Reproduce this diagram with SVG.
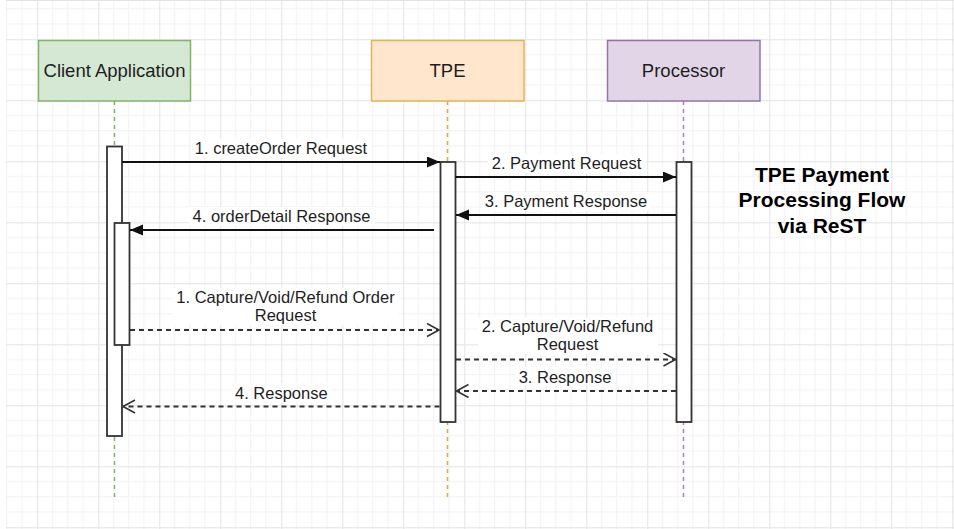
<svg xmlns="http://www.w3.org/2000/svg" width="954" height="529" viewBox="0 0 954 529">
<defs>
<pattern id="grid" patternUnits="userSpaceOnUse" x="37.3" y="39.3" width="61" height="61">
<path d="M15.25 0V61M30.5 0V61M45.75 0V61M0 15.25H61M0 30.5H61M0 45.75H61" stroke="#f1f1f1" stroke-width="1" fill="none"/>
<path d="M0.5 0V61M0 0.5H61" stroke="#e3e3e3" stroke-width="1" fill="none"/>
</pattern>
<marker id="block" markerUnits="userSpaceOnUse" markerWidth="14" markerHeight="12" refX="13" refY="5.5" orient="auto">
<path d="M0,0 L13,5.5 L0,11 Z" fill="#111"/>
</marker>
<marker id="open" markerUnits="userSpaceOnUse" markerWidth="16" markerHeight="16" refX="13" refY="7" orient="auto">
<path d="M1,0.5 L13,7 L1,13.5" fill="none" stroke="#333" stroke-width="1.6"/>
</marker>
</defs>
<style>
.box{stroke-width:1.5}
.lbl{font-family:"Liberation Sans",Arial,sans-serif;font-size:16.5px;fill:#1e1e1e;text-anchor:middle}
.name{font-family:"Liberation Sans",Arial,sans-serif;font-size:18.5px;fill:#1e1e1e;text-anchor:middle}
.title{font-family:"Liberation Sans",Arial,sans-serif;font-size:21px;font-weight:bold;fill:#000;text-anchor:middle}
.life{stroke-width:1.5;stroke-dasharray:4 4;fill:none}
.bar{fill:#fff;stroke:#333;stroke-width:1.8}
.solid{stroke:#111;stroke-width:2;fill:none;marker-end:url(#block)}
.dash{stroke:#333;stroke-width:1.8;stroke-dasharray:5 4;fill:none;marker-end:url(#open)}
.bg{fill:#fff}
</style>
<rect width="954" height="529" fill="#fff"/>
<rect x="6" y="0" width="948" height="529" fill="url(#grid)"/>
<path d="M6 0.5H954" stroke="#e3e3e3" stroke-width="1"/>

<g id="lifelines">
<path class="life" stroke="#82b366" d="M114.5 101V498"/>
<path class="life" stroke="#e0a93a" d="M447.5 101V498"/>
<path class="life" stroke="#a680b8" d="M683.5 101V498"/>
</g>

<g id="client">
<rect class="box" x="38.5" y="40.5" width="152" height="60.5" fill="#d5e8d4" stroke="#82b366"/>
<text class="name" x="114.5" y="77">Client Application</text>
</g>
<g id="tpe">
<rect class="box" x="371.5" y="40.5" width="152.5" height="60.5" fill="#ffe6cc" stroke="#e0b552"/>
<text class="name" x="447.5" y="77">TPE</text>
</g>
<g id="processor">
<rect class="box" x="607.5" y="40.5" width="152.5" height="60.5" fill="#e1d5e7" stroke="#9673a6"/>
<text class="name" x="683.5" y="77">Processor</text>
</g>

<g id="activations">
<rect class="bar" x="107" y="146.5" width="15" height="289.5"/>
<rect class="bar" x="114.5" y="223" width="15" height="122"/>
<rect class="bar" x="440.5" y="162" width="15" height="260"/>
<rect class="bar" x="676.5" y="162" width="15" height="260"/>
</g>

<g id="connectors">
<path class="solid" d="M122 162H440"/>
<path class="solid" d="M455.5 177H676"/>
<path class="solid" d="M676 215H456"/>
<path class="solid" d="M434 230H130"/>
<path class="dash" d="M130 330H439"/>
<path class="dash" d="M456 359.5H675.5"/>
<path class="dash" d="M676 391H456.5"/>
<path class="dash" d="M439.5 406.5H123"/>
</g>

<g id="labels">
<rect class="bg" x="191" y="139" width="180" height="19"/>
<text class="lbl" x="281" y="153.5">1. createOrder Request</text>
<rect class="bg" x="488" y="154" width="158" height="19"/>
<text class="lbl" x="566.5" y="168.5">2. Payment Request</text>
<rect class="bg" x="481" y="192" width="170" height="19"/>
<text class="lbl" x="566" y="207">3. Payment Response</text>
<rect class="bg" x="189" y="207" width="186" height="19"/>
<text class="lbl" x="281.5" y="222">4. orderDetail Response</text>
<rect class="bg" x="173" y="288" width="226" height="37"/>
<text class="lbl" x="285.5" y="302.5">1. Capture/Void/Refund Order</text>
<text class="lbl" x="285.5" y="321">Request</text>
<rect class="bg" x="478" y="317" width="180" height="37"/>
<text class="lbl" x="567.5" y="331.5">2. Capture/Void/Refund</text>
<text class="lbl" x="567.5" y="350">Request</text>
<rect class="bg" x="515" y="367" width="100" height="19"/>
<text class="lbl" x="565" y="382.5">3. Response</text>
<rect class="bg" x="231" y="383" width="101" height="19"/>
<text class="lbl" x="281.3" y="398.5">4. Response</text>
</g>

<g id="title">
<text class="title" x="822" y="181.5">TPE Payment</text>
<text class="title" x="822" y="207.3">Processing Flow</text>
<text class="title" x="822" y="232.7">via ReST</text>
</g>
</svg>
